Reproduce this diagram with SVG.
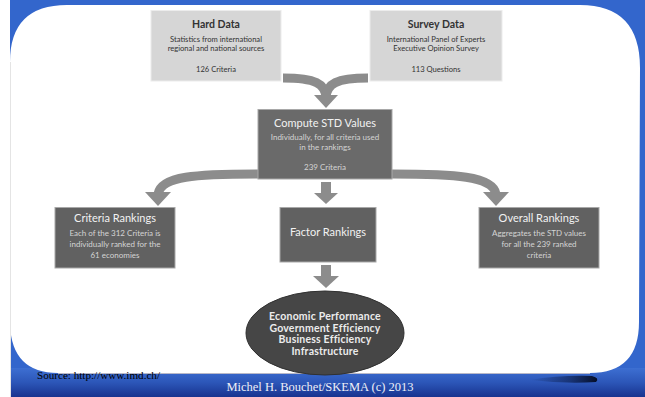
<svg xmlns="http://www.w3.org/2000/svg" width="645" height="397" viewBox="0 0 645 397">
<defs>
<linearGradient id="band" x1="0" y1="0" x2="0" y2="1">
<stop offset="0" stop-color="#3d6fd2"/>
<stop offset="0.5" stop-color="#2c56b8"/>
<stop offset="1" stop-color="#18338f"/>
</linearGradient>
<linearGradient id="swoosh" x1="0" y1="0" x2="1" y2="0">
<stop offset="0" stop-color="#0a1a45" stop-opacity="0"/>
<stop offset="0.6" stop-color="#0a1a45" stop-opacity="0.6"/>
<stop offset="1" stop-color="#050d25" stop-opacity="1"/>
</linearGradient>
<style>
.light{fill:#d6d6d6;stroke:#ececec;stroke-width:1}
.dark{fill:#616161;stroke:#a8a8a8;stroke-width:1}
.arm{fill:none;stroke:#8c8c8c;stroke-width:9}
.head{fill:#8c8c8c}
.t{font-family:Lato,"Open Sans",sans-serif;text-anchor:middle}
.ht{font-size:10.5px;font-weight:bold;fill:#333}
.hb{font-size:7.6px;fill:#333}
.dt{font-size:11px;fill:#f2f2f2}
.db{font-size:8px;fill:#d4d4d4}
.et{font-size:10.5px;font-weight:bold;fill:#ececec;letter-spacing:0.2px}
</style>
</defs>
<rect x="0" y="0" width="645" height="397" fill="#ffffff"/>
<rect x="10" y="0" width="635" height="397" fill="#3366cc"/>
<rect x="10" y="368" width="635" height="29" fill="url(#band)"/>
<path d="M10,62 Q10,5 67,5 L580,5 Q640,5 640,68 L639,322 Q639,373 590,373 L58,373 Q12,373 10,325 Z" fill="#ffffff"/>
<line x1="58" y1="373.5" x2="590" y2="373.5" stroke="#b8b8c8" stroke-width="1"/>
<path d="M530,380 Q560,375 592,376 Q600,378 596,382 Q565,384 530,380 Z" fill="url(#swoosh)"/>
<line x1="10.5" y1="62" x2="10.5" y2="397" stroke="#e4e4e4" stroke-width="1"/>

<g id="connectors">
<path class="arm" d="M283,78 C316,78 325,84 326,97"/>
<path class="arm" d="M368,78 C336,78 327,84 326,97"/>
<polygon class="head" points="314,95 338,95 326,108"/>
<path class="arm" d="M258,174 C196,174 161,176 158,194"/>
<polygon class="head" points="145,192 171,192 158,206"/>
<path class="arm" d="M392,174 C454,174 493,176 496,194"/>
<polygon class="head" points="483,192 509,192 496,206"/>
<rect class="head" x="321" y="182" width="10" height="12"/>
<polygon class="head" points="314,193 338,193 326,204"/>
<rect class="head" x="321" y="265" width="10" height="12"/>
<polygon class="head" points="313,276 339,276 326,288"/>
</g>

<g id="hard-data">
<rect class="light" x="151" y="10.5" width="130" height="70.5"/>
<text class="t ht" x="216" y="28">Hard Data</text>
<text class="t hb" x="216" y="42">Statistics from international</text>
<text class="t hb" x="216" y="51">regional and national sources</text>
<text class="t hb" x="216" y="72">126 Criteria</text>
</g>

<g id="survey-data">
<rect class="light" x="370" y="10.5" width="132" height="70.5"/>
<text class="t ht" x="436" y="28">Survey Data</text>
<text class="t hb" x="436" y="42">International Panel of Experts</text>
<text class="t hb" x="436" y="51">Executive Opinion Survey</text>
<text class="t hb" x="436" y="72">113 Questions</text>
</g>

<g id="compute-std">
<rect class="dark" x="258" y="109.5" width="134" height="69.5" style="fill:#6a6a6a"/>
<text class="t dt" x="325" y="127">Compute STD Values</text>
<text class="t db" x="325" y="140">Individually, for all criteria used</text>
<text class="t db" x="325" y="149.5">in the rankings</text>
<text class="t db" x="325" y="170">239 Criteria</text>
</g>

<g id="criteria-rankings">
<rect class="dark" x="55" y="207.5" width="120" height="60.5"/>
<text class="t dt" x="115" y="222">Criteria Rankings</text>
<text class="t db" x="115" y="236">Each of the 312 Criteria is</text>
<text class="t db" x="115" y="247">individually ranked for the</text>
<text class="t db" x="115" y="258">61 economies</text>
</g>

<g id="factor-rankings">
<rect class="dark" x="280" y="207.5" width="96" height="54.5"/>
<text class="t dt" x="328" y="236">Factor Rankings</text>
</g>

<g id="overall-rankings">
<rect class="dark" x="479" y="207.5" width="120" height="60.5"/>
<text class="t dt" x="539" y="222">Overall Rankings</text>
<text class="t db" x="539" y="236">Aggregates the STD values</text>
<text class="t db" x="539" y="247">for all the 239 ranked</text>
<text class="t db" x="539" y="258">criteria</text>
</g>

<g id="factors">
<ellipse cx="325" cy="333" rx="79" ry="42" fill="#464646" stroke="#303030" stroke-width="1"/>
<text class="t et" x="325" y="320">Economic Performance</text>
<text class="t et" x="325" y="331.5">Government Efficiency</text>
<text class="t et" x="325" y="343">Business Efficiency</text>
<text class="t et" x="325" y="354.5">Infrastructure</text>
</g>

<text x="37" y="379" font-family="'Liberation Serif',serif" font-size="10.5" fill="#000" textLength="123" lengthAdjust="spacingAndGlyphs">Source: http://www.imd.ch/</text>
<text x="320" y="391" font-family="'Liberation Serif',serif" font-size="12.5" fill="#eef0f8" text-anchor="middle">Michel H. Bouchet/SKEMA (c) 2013</text>
</svg>
